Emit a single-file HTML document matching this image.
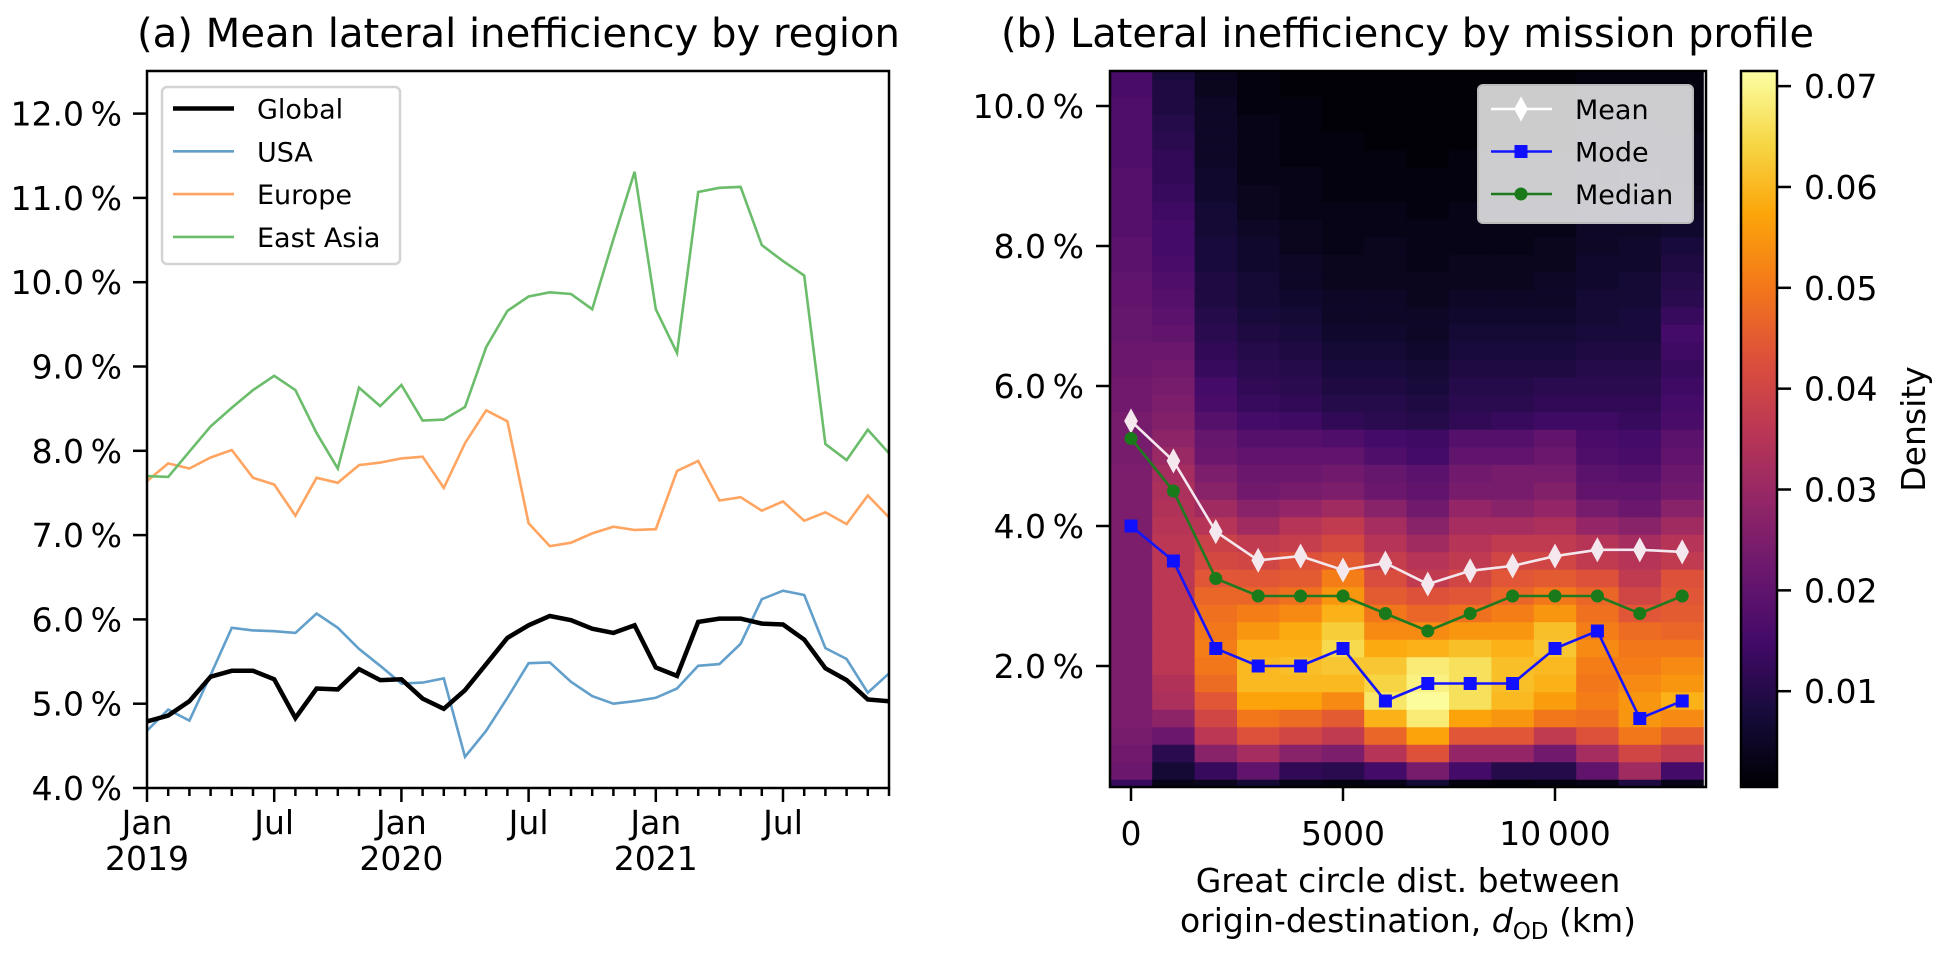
<!DOCTYPE html>
<html><head><meta charset="utf-8"><style>
html,body{margin:0;padding:0;background:#fff}
svg text{font-family:"DejaVu Sans","Liberation Sans",sans-serif;fill:#000}
</style></head><body>
<svg id="fig" xmlns="http://www.w3.org/2000/svg" width="1951" height="958" viewBox="0 0 1951 958">
<defs>
<clipPath id="clipL"><rect x="147" y="71" width="742" height="717"/></clipPath>
<clipPath id="clipR"><rect x="1110" y="71" width="596" height="716"/></clipPath>
<linearGradient id="cbgrad" x1="0" y1="1" x2="0" y2="0">
<stop offset="0" stop-color="#000004"/><stop offset="0.1" stop-color="#160b39"/><stop offset="0.2" stop-color="#420a68"/><stop offset="0.3" stop-color="#6a176e"/><stop offset="0.4" stop-color="#932667"/><stop offset="0.5" stop-color="#bc3754"/><stop offset="0.6" stop-color="#dd513a"/><stop offset="0.7" stop-color="#f37819"/><stop offset="0.8" stop-color="#fca50a"/><stop offset="0.9" stop-color="#f6d746"/><stop offset="1" stop-color="#fcffa4"/>
</linearGradient>
</defs>
<text x="137" y="47" font-size="40" textLength="763" lengthAdjust="spacingAndGlyphs">(a) Mean lateral inefficiency by region</text>
<text x="1001" y="47" font-size="40" textLength="813" lengthAdjust="spacingAndGlyphs">(b) Lateral inefficiency by mission profile</text>
<g id="left"></g>
<g id="right"></g>
<g id="cbar"></g>
</svg>
<script>
// ---------- Left chart data ----------
const monthsCount = 36;
const globalVals = [4.79,4.86,5.03,5.32,5.39,5.39,5.29,4.83,5.18,5.17,5.41,5.28,5.29,5.06,4.94,5.16,5.47,5.78,5.93,6.04,5.99,5.89,5.84,5.93,5.43,5.33,5.97,6.01,6.01,5.95,5.94,5.76,5.42,5.28,5.05,5.03];
const usaVals = [4.68,4.93,4.80,5.34,5.90,5.87,5.86,5.84,6.07,5.90,5.65,5.45,5.24,5.25,5.30,4.37,4.68,5.07,5.48,5.49,5.26,5.09,5.00,5.03,5.07,5.18,5.45,5.47,5.71,6.24,6.34,6.29,5.66,5.53,5.13,5.36];
const europeVals = [7.64,7.85,7.79,7.92,8.01,7.68,7.60,7.23,7.68,7.62,7.83,7.86,7.91,7.93,7.56,8.09,8.48,8.35,7.14,6.87,6.91,7.02,7.10,7.06,7.07,7.76,7.88,7.41,7.45,7.29,7.40,7.17,7.27,7.13,7.47,7.21];
const eastAsiaVals = [7.70,7.69,7.99,8.29,8.51,8.72,8.89,8.72,8.21,7.79,8.75,8.53,8.78,8.36,8.37,8.52,9.23,9.66,9.83,9.88,9.86,9.68,10.51,11.31,9.68,9.16,11.07,11.12,11.13,10.44,10.25,10.08,8.08,7.89,8.25,7.97];
const leftYTicks = [4,5,6,7,8,9,10,11,12];
const leftYTickLabels = ["4.0\u2009%","5.0\u2009%","6.0\u2009%","7.0\u2009%","8.0\u2009%","9.0\u2009%","10.0\u2009%","11.0\u2009%","12.0\u2009%"];
const majorMonths = [0,6,12,18,24,30];
const majorLabels1 = ["Jan","Jul","Jan","Jul","Jan","Jul"];
const majorLabels2 = ["2019","","2020","","2021",""];

// ---------- Right chart data ----------
const distances = [0,1000,2000,3000,4000,5000,6000,7000,8000,9000,10000,11000,12000,13000];
const meanVals = [5.5,4.93,3.92,3.51,3.57,3.37,3.47,3.17,3.36,3.43,3.57,3.66,3.66,3.63];
const modeVals = [4.0,3.5,2.25,2.0,2.0,2.25,1.5,1.75,1.75,1.75,2.25,2.5,1.25,1.5];
const medianVals = [5.25,4.5,3.25,3.0,3.0,3.0,2.75,2.5,2.75,3.0,3.0,3.0,2.75,3.0];
const binCenters = [10.5,10.25,10,9.75,9.5,9.25,9,8.75,8.5,8.25,8,7.75,7.5,7.25,7,6.75,6.5,6.25,6,5.75,5.5,5.25,5,4.75,4.5,4.25,4,3.75,3.5,3.25,3,2.75,2.5,2.25,2,1.75,1.5,1.25,1,0.75,0.5,0.25];
const dens0 = [16,16,17,17,17,17,18,18,18,18,19,19,20,20,21,21,22,22,23,23,24,24,24,25,25,25,25,25,25,25,25,25,25,25,25,25,25,25,24,23,22,13];
const dens1 = [8,9,9,10,11,12,12,13,14,15,15,16,17,18,19,20,22,23,24,25,26,28,30,32,33,34,35,36,36,36,36,36,36,36,36,34,33,28,22,11,7,3];
const dens2 = [4,4,5,5,5,5,6,6,7,7,8,8,9,9,10,11,12,13,15,16,18,21,22,25,27,31,35,39,41,44,47,49,50,51,50,48,44,40,36,27,13,4];
const dens3 = [2,2,2,3,3,3,3,4,4,5,6,6,7,7,8,9,10,11,12,13,15,18,20,22,23,27,31,37,40,44,47,51,55,59,60,60,57,50,43,32,20,7];
const dens4 = [1,1,2,2,2,2,3,3,3,4,4,5,5,6,7,8,9,10,11,12,14,18,20,22,24,29,35,38,43,45,49,53,58,59,61,60,57,48,40,27,12,3];
const dens5 = [1,1,1,1,2,2,2,2,3,3,3,4,4,5,5,6,7,8,9,10,12,17,20,23,25,31,37,41,45,51,55,59,63,65,62,60,53,45,37,25,11,2];
const dens6 = [1,1,1,1,1,2,2,2,3,3,4,4,4,5,5,6,7,8,9,10,11,15,17,21,22,27,32,35,38,42,45,50,53,58,62,64,67,59,47,35,15,3];
const dens7 = [1,1,1,1,1,1,2,2,2,3,3,3,4,4,5,5,6,7,8,9,10,14,15,19,20,23,27,31,35,37,43,47,53,59,68,69,71,68,57,43,24,7];
const dens8 = [1,1,1,1,1,2,2,2,3,3,3,4,4,5,6,7,8,9,10,11,12,18,20,23,24,29,32,35,37,40,44,49,55,61,66,66,66,57,44,29,15,2];
const dens9 = [1,1,1,1,1,2,2,2,3,3,3,4,4,5,6,7,8,9,10,11,13,18,20,24,24,27,32,37,40,44,47,51,55,59,61,61,60,55,44,29,10,1];
const dens10 = [1,1,1,1,1,2,2,2,3,3,4,4,5,5,6,7,8,9,11,12,14,20,22,24,26,29,33,37,40,45,50,55,61,62,60,59,56,50,37,23,10,2];
const dens11 = [2,2,2,2,3,3,3,4,4,5,5,6,6,7,7,8,9,10,11,12,14,16,17,19,20,24,29,35,37,43,47,49,51,53,51,50,51,49,43,32,20,3];
const dens12 = [2,2,2,3,3,3,4,4,5,5,6,6,7,7,8,8,9,10,11,12,13,15,16,18,20,22,27,32,35,37,40,44,48,50,51,53,55,55,50,40,31,9];
const dens13 = [2,2,2,2,3,3,3,4,5,6,8,9,10,11,13,15,14,13,14,15,16,19,20,22,23,27,31,35,37,43,44,45,47,50,53,55,59,53,45,37,15,3];
const rightYTicks = [2,4,6,8,10];
const rightYTickLabels = ["2.0\u2009%","4.0\u2009%","6.0\u2009%","8.0\u2009%","10.0\u2009%"];
const rightXTicks = [0,5000,10000];
const rightXTickLabels = ["0","5000","10\u2009000"];
const cbTicks = [0.01,0.02,0.03,0.04,0.05,0.06,0.07];
const cbTickLabels = ["0.01","0.02","0.03","0.04","0.05","0.06","0.07"];

const NS = "http://www.w3.org/2000/svg";
function mk(tag, attrs, parent){ const e=document.createElementNS(NS,tag); for(const k in attrs) e.setAttribute(k,attrs[k]); parent.appendChild(e); return e; }

const xL = m => 147 + m * (742/35);
const yL = v => 788 - (v-4) * 84.3;
const xR = d => 1131 + d * 0.0424;
const yR = v => 106 + (10 - v) * 70;
const cbY = d => 787 - (d - 0.0005) / 0.071 * 716;

const infernoStops = [[0,0,4],[22,11,57],[66,10,104],[106,23,110],[147,38,103],[188,55,84],[221,81,58],[243,120,25],[252,165,10],[246,215,70],[252,255,164]];
function inferno(t){ t=Math.max(0,Math.min(1,t)); const p=t*10; const i=Math.min(9,Math.floor(p)); const f=p-i; const a=infernoStops[i], b=infernoStops[i+1]; return `rgb(${Math.round(a[0]+(b[0]-a[0])*f)},${Math.round(a[1]+(b[1]-a[1])*f)},${Math.round(a[2]+(b[2]-a[2])*f)})`; }

const TF = 33;
// ---------- Left chart ----------
const L = document.getElementById('left');
const lines = mk('g',{'clip-path':'url(#clipL)'},L);


const series = [
 {vals:usaVals,color:'rgb(98,159,203)',w:2.6,name:'usa-line'},
 {vals:europeVals,color:'rgb(255,165,97)',w:2.6,name:'europe-line'},
 {vals:eastAsiaVals,color:'rgb(107,189,107)',w:2.6,name:'east-asia-line'},
 {vals:globalVals,color:'#000',w:4.5,name:'global-line'}
];
series.forEach(s=>{
  const pts = s.vals.map((v,i)=>xL(i).toFixed(1)+','+yL(v).toFixed(1)).join(' ');
  const pl = mk('polyline',{points:pts,fill:'none',stroke:s.color,'stroke-width':s.w},lines);
  
  
});
const frameL = mk('rect',{x:147,y:71,width:742,height:717,fill:'none',stroke:'#000','stroke-width':2.5},L);


leftYTicks.forEach((v,i)=>{
  mk('line',{x1:133,x2:147,y1:yL(v),y2:yL(v),stroke:'#000','stroke-width':2.5},L);
  const t = mk('text',{x:122,y:yL(v)+12,'font-size':TF,'text-anchor':'end'},L);
  t.textContent = leftYTickLabels[i];
  
  
});
for(let m=0;m<monthsCount;m++){
  const major = majorMonths.includes(m);
  mk('line',{x1:xL(m),x2:xL(m),y1:788,y2:major?802:796,stroke:'#000','stroke-width':2.5},L);
}
majorMonths.forEach((m,i)=>{
  const t1 = mk('text',{x:xL(m),y:834,'font-size':TF,'text-anchor':'middle'},L);
  t1.textContent = majorLabels1[i];
  
  
  if(majorLabels2[i]){
    const t2 = mk('text',{x:xL(m),y:870,'font-size':TF,'text-anchor':'middle'},L);
    t2.textContent = majorLabels2[i];
    
    
  }
});
const lg = mk('g',{},L);


mk('rect',{x:162,y:87,width:238,height:177,rx:5,fill:'rgba(255,255,255,0.85)',stroke:'#d3d3d3','stroke-width':2.5},lg);
const legL = [['Global','#000',4.5],['USA','rgb(98,159,203)',2.6],['Europe','rgb(255,165,97)',2.6],['East Asia','rgb(107,189,107)',2.6]];
legL.forEach((e,i)=>{
  const y = 108.5 + i*42.8;
  mk('line',{x1:173,x2:234,y1:y,y2:y,stroke:e[1],'stroke-width':e[2]},lg);
  const t = mk('text',{x:257,y:y+10,'font-size':27},lg);
  t.textContent = e[0];
  
  
});

// ---------- Right chart ----------
const R = document.getElementById('right');
const hm = mk('g',{'clip-path':'url(#clipR)'},R);


const densCols = [dens0,dens1,dens2,dens3,dens4,dens5,dens6,dens7,dens8,dens9,dens10,dens11,dens12,dens13];
densCols.forEach((col,ci)=>{
  const x0 = xR(distances[ci]-500), x1 = xR(distances[ci]+500);
  col.forEach((d,ri)=>{
    const y0 = yR(binCenters[ri]+0.125), y1 = yR(binCenters[ri]-0.125);
    const r = mk('rect',{x:x0.toFixed(2),y:y0.toFixed(2),width:(x1-x0+0.4).toFixed(2),height:(y1-y0+0.4).toFixed(2),fill:inferno((d-0.5)/71)},hm);
    
    
  });
});
const stats = mk('g',{'clip-path':'url(#clipR)'},R);


function statLine(vals,color,name,marker){
  const pts = vals.map((v,i)=>xR(distances[i]).toFixed(1)+','+yR(v).toFixed(1)).join(' ');
  const pl = mk('polyline',{points:pts,fill:'none',stroke:color,'stroke-width':2.6},stats);
  
  
  vals.forEach((v,i)=>{
    const m = marker(xR(distances[i]),yR(v),stats);
    
    
  });
}
const diamond=(x,y,p,c)=>mk('polygon',{points:`${x},${y-11} ${x+6},${y} ${x},${y+11} ${x-6},${y}`,fill:c||'#f4e8ee',stroke:c||'#f4e8ee','stroke-width':1.5},p);
const square=(x,y,p)=>mk('rect',{x:x-6,y:y-6,width:12,height:12,fill:'#1010ff',stroke:'#1010ff','stroke-width':1},p);
const circle=(x,y,p)=>mk('circle',{cx:x,cy:y,r:6,fill:'#1a7a1a',stroke:'#1a7a1a','stroke-width':1},p);
statLine(meanVals,'#f4e8ee','mean',(x,y,p)=>diamond(x,y,p));
statLine(medianVals,'#1f7a1f','median',circle);
statLine(modeVals,'#1515ff','mode',square);
const frameR = mk('rect',{x:1110,y:71,width:596,height:716,fill:'none',stroke:'#000','stroke-width':2.5},R);


rightYTicks.forEach((v,i)=>{
  mk('line',{x1:1096,x2:1110,y1:yR(v),y2:yR(v),stroke:'#000','stroke-width':2.5},R);
  const t = mk('text',{x:1084,y:yR(v)+12,'font-size':TF,'text-anchor':'end'},R);
  t.textContent = rightYTickLabels[i];
  
  
});
rightXTicks.forEach((d,i)=>{
  mk('line',{x1:xR(d),x2:xR(d),y1:787,y2:801,stroke:'#000','stroke-width':2.5},R);
  const t = mk('text',{x:xR(d),y:845,'font-size':TF,'text-anchor':'middle'},R);
  t.textContent = rightXTickLabels[i];
  
  
});
const xl1 = mk('text',{x:1408,y:892,'font-size':TF,'text-anchor':'middle'},R);
xl1.textContent = 'Great circle dist. between';


const xl2 = mk('text',{x:1408,y:932,'font-size':TF,'text-anchor':'middle'},R);
xl2.innerHTML = 'origin-destination, <tspan font-style="italic">d</tspan><tspan font-size="23" dy="7">OD</tspan><tspan dy="-7"> (km)</tspan>';


const rg = mk('g',{},R);


mk('rect',{x:1478,y:85,width:215,height:138,rx:5,fill:'rgba(255,255,255,0.8)',stroke:'#bbb','stroke-width':2},rg);
const legR = [['Mean','#ffffff'],['Mode','#1515ff'],['Median','#1f7a1f']];
legR.forEach((e,i)=>{
  const y = 109 + i*42.5;
  mk('line',{x1:1491,x2:1552,y1:y,y2:y,stroke:e[1],'stroke-width':2.6},rg);
  if(i===0) diamond(1521,y,rg,'#ffffff'); else if(i===1) square(1521,y,rg); else circle(1521,y,rg);
  const t = mk('text',{x:1575,y:y+10,'font-size':27},rg);
  t.textContent = e[0];
  
  
});

// ---------- Colorbar ----------
const C = document.getElementById('cbar');
const cbr = mk('rect',{x:1741,y:71,width:36,height:716,fill:'url(#cbgrad)',stroke:'#000','stroke-width':2.5},C);


cbTicks.forEach((d,i)=>{
  mk('line',{x1:1777,x2:1791,y1:cbY(d),y2:cbY(d),stroke:'#000','stroke-width':2.5},C);
  const t = mk('text',{x:1804,y:cbY(d)+12,'font-size':TF},C);
  t.textContent = cbTickLabels[i];
  
  
});
const cl = mk('text',{x:1925,y:429,'font-size':TF,'text-anchor':'middle',transform:'rotate(-90 1925 429)'},C);
cl.textContent = 'Density';


</script>
</body></html>
